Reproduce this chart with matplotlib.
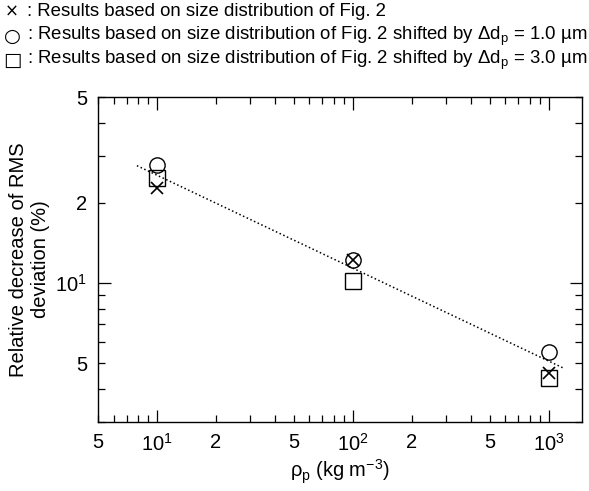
import math
import matplotlib
matplotlib.use('Agg')
import matplotlib.pyplot as plt
import matplotlib.ticker as ticker

plt.rcParams['font.family'] = ['Liberation Sans', 'DejaVu Sans']
plt.rcParams['mathtext.fontset'] = 'custom'
plt.rcParams['mathtext.rm'] = 'Liberation Sans'
plt.rcParams['mathtext.it'] = 'Liberation Sans'

# data
rho = [10, 100, 1000]
y_fig2 = [22.8, 12.2, 4.6]        # x markers
y_shift1 = [27.8, 12.2, 5.5]      # circles, shift 1.0 um
y_shift3 = [24.7, 10.2, 4.38]     # squares, shift 3.0 um
fit_x = [7.9, 1180]
fit_y = [27.6, 4.8]

legend_syms = [u'\u00d7', u'\u25cb', u'\u25a1']
legend_lines = [
    ': Results based on size distribution of Fig. 2',
    u': Results based on size distribution of Fig. 2 shifted by $\\Delta$d$_\\mathrm{p}$ = 1.0 \u00b5m',
    u': Results based on size distribution of Fig. 2 shifted by $\\Delta$d$_\\mathrm{p}$ = 3.0 \u00b5m',
]

fig = plt.figure(figsize=(5.89, 4.91), dpi=100)
ax = fig.add_axes([0.1664, 0.1405, 0.988 - 0.1664, 0.8024 - 0.1405])

ax.plot(fit_x, fit_y, linestyle=':', color='k', lw=1.1)
ax.plot(rho, y_shift1, 'o', mfc='none', mec='k', ms=11, mew=1.0)
ax.plot(rho, y_shift3, 's', mfc='none', mec='k', ms=11, mew=1.0)
ax.plot(rho, y_fig2, 'x', color='k', ms=8, mew=1.2)

ax.set_xscale('log')
ax.set_yscale('log')
ax.set_xlim(5, 1480)
ax.set_ylim(3, 50)


def minor_fmt(v, pos):
    m = round(v / 10 ** math.floor(math.log10(v) + 1e-9))
    return str(m) if m in (2, 5) else ''


def major_fmt(v, pos):
    return r'$10^{%d}$' % round(math.log10(v))


for axis in (ax.xaxis, ax.yaxis):
    axis.set_major_locator(ticker.LogLocator(base=10, numticks=10))
    axis.set_minor_locator(ticker.LogLocator(base=10, subs=range(2, 10), numticks=10))
    axis.set_major_formatter(ticker.FuncFormatter(major_fmt))
    axis.set_minor_formatter(ticker.FuncFormatter(minor_fmt))

ax.tick_params(which='both', direction='in', top=True, right=True, labelsize=14.5, width=0.9)
ax.tick_params(which='major', length=9, pad=8)
ax.tick_params(which='minor', length=5, pad=8)
for s in ax.spines.values():
    s.set_linewidth(1.0)

ax.set_xlabel(r'$\rho_\mathrm{p}$ (kg m$^\mathrm{-3}$)', fontsize=14.5, labelpad=2)
ax.set_ylabel('Relative decrease of RMS\ndeviation (%)', fontsize=14.5, labelpad=4)

for i, (sym, t) in enumerate(zip(legend_syms, legend_lines)):
    y = 1 - (12 + i * 24) / 491.0
    fig.text(12 / 589.0, y, sym, fontsize=12 if i == 0 else 14, family='DejaVu Sans',
             va='center', ha='center')
    fig.text(27 / 589.0, y, t, fontsize=13.4, va='center', ha='left')

fig.savefig('out.png', dpi=100)
